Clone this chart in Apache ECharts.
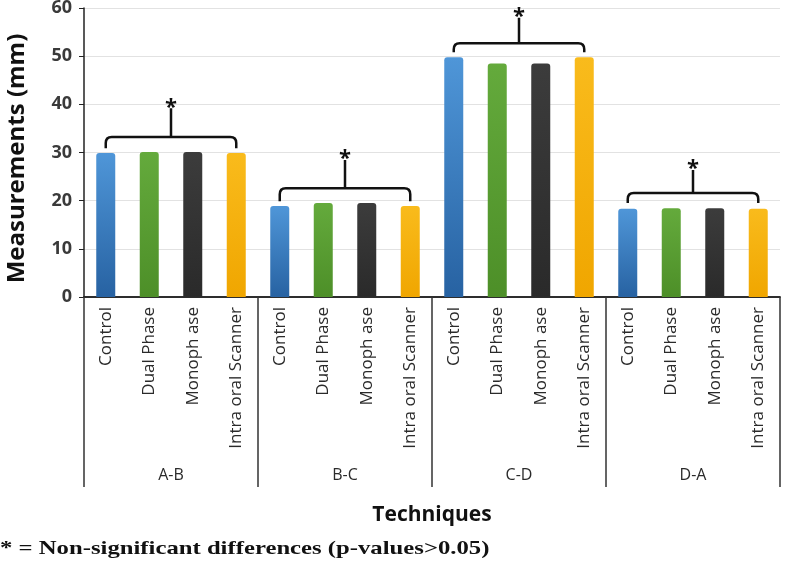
<!DOCTYPE html>
<html>
<head>
<meta charset="utf-8">
<script src="https://cdn.jsdelivr.net/npm/echarts@6/dist/echarts.min.js"></script>
<style>html,body{margin:0;padding:0;background:#fff}#c{width:786px;height:569px}</style>
</head>
<body>
<div id="c"></div>
<script>
// ---- data ----
var techniques = ['Control', 'Dual Phase', 'Monoph ase', 'Intra oral Scanner'];
var groups = ['A-B', 'B-C', 'C-D', 'D-A'];
var valuesAB = [29.9, 30.1, 30.1, 29.9];
var valuesBC = [18.9, 19.5, 19.5, 18.9];
var valuesCD = [49.8, 48.5, 48.5, 49.8];
var valuesDA = [18.3, 18.4, 18.4, 18.3];
var yTicks = [0, 10, 20, 30, 40, 50, 60];
// bracket annotation levels (in mm), one per group
var bracketTop = [33.2, 22.6, 52.7, 21.6];
var bracketLeg = [30.9, 19.9, 50.8, 19.5];
var starLevel = [40.2, 29.5, 59.0, 27.4];
var footnote = '* = Non-significant differences (p-values>0.05)';

// ---- styles ----
var techColors = [
  ['#4f96d8', '#2762a2'],
  ['#64aa3c', '#4d8f28'],
  ['#3c3c3c', '#2a2a2a'],
  ['#f9bb1c', '#f0a600']
];

var allValues = [valuesAB, valuesBC, valuesCD, valuesDA];
var categories = [];
var barData = [];
groups.forEach(function (g, gi) {
  techniques.forEach(function (t, ti) {
    categories.push(t);
    var c = techColors[ti];
    barData.push({
      value: allValues[gi][ti],
      itemStyle: {
        color: { type: 'linear', x: 0, y: 0, x2: 0, y2: 1,
          colorStops: [{ offset: 0, color: c[0] }, { offset: 1, color: c[1] }] },
        borderRadius: [3, 3, 0, 0]
      }
    });
  });
});
var bracketData = groups.map(function (g, gi) {
  var s = gi * techniques.length;
  return [s, s + techniques.length - 1, bracketTop[gi], bracketLeg[gi], starLevel[gi]];
});

var chart = echarts.init(document.getElementById('c'));
var fontSans = '"Open Sans", "Noto Sans", sans-serif';
chart.setOption({
  animation: false,
  grid: { left: 84, right: 6, top: 8, bottom: 272, containLabel: false, outerBoundsMode: 'none' },
  xAxis: [{
    type: 'category',
    data: categories,
    axisLine: { lineStyle: { color: '#222', width: 1.5 } },
    axisTick: { show: false },
    axisLabel: { interval: 0, rotate: 90, margin: 10, color: '#2a2a2a', fontSize: 17, fontFamily: fontSans }
  }, {
    type: 'category',
    data: groups,
    position: 'bottom',
    axisLine: { lineStyle: { color: '#222', width: 1.5 } },
    axisTick: { show: true, length: 190, interval: 0, lineStyle: { color: '#333', width: 1.5 } },
    axisLabel: { interval: 0, margin: 170, color: '#2a2a2a', fontSize: 16, fontFamily: fontSans },
    name: 'Techniques',
    nameLocation: 'middle',
    nameGap: 208,
    nameTextStyle: { color: '#111', fontSize: 21, fontWeight: 'bold', fontFamily: fontSans }
  }],
  yAxis: {
    type: 'value',
    min: yTicks[0],
    max: yTicks[yTicks.length - 1],
    interval: yTicks[1] - yTicks[0],
    axisLine: { show: true, lineStyle: { color: '#222', width: 1.5 } },
    axisTick: { show: true, length: 5, lineStyle: { color: '#222' } },
    axisLabel: { margin: 12, color: '#3a3a3a', fontSize: 18, fontWeight: 'bold', fontFamily: fontSans },
    splitLine: { lineStyle: { color: '#e2e2e2', width: 1 } },
    name: 'Measurements (mm)',
    nameLocation: 'middle',
    nameGap: 55,
    nameTextStyle: { color: '#111', fontSize: 24, fontWeight: 'bold', fontFamily: fontSans, padding: [0, 12, 0, 0] }
  },
  series: [{
    type: 'bar',
    xAxisIndex: 0,
    data: barData,
    barWidth: 19
  }, {
    type: 'custom',
    xAxisIndex: 0,
    clip: false,
    z: 5,
    data: bracketData,
    encode: { x: [0, 1], y: [2, 3, 4] },
    renderItem: function (params, api) {
      var p0 = api.coord([api.value(0), api.value(3)]);
      var p1 = api.coord([api.value(1), api.value(3)]);
      var yTop = api.coord([api.value(0), api.value(2)])[1];
      var yStar = api.coord([api.value(0), api.value(4)])[1];
      var x0 = p0[0], x1 = p1[0], yLeg = p0[1];
      var xm = (x0 + x1) / 2;
      var r = 6;
      var d = 'M' + x0 + ',' + yLeg + ' L' + x0 + ',' + (yTop + r) +
        ' Q' + x0 + ',' + yTop + ' ' + (x0 + r) + ',' + yTop +
        ' L' + (x1 - r) + ',' + yTop +
        ' Q' + x1 + ',' + yTop + ' ' + x1 + ',' + (yTop + r) +
        ' L' + x1 + ',' + yLeg +
        ' M' + xm + ',' + yTop + ' L' + xm + ',' + (yStar + 5);
      return {
        type: 'group',
        children: [{
          type: 'path',
          shape: { pathData: d },
          style: { fill: null, stroke: '#111', lineWidth: 2.5 }
        }, {
          type: 'text',
          x: xm, y: yStar + 4,
          style: { text: '*', fill: '#111', font: 'bold 22px ' + fontSans, align: 'center', verticalAlign: 'middle' }
        }]
      };
    }
  }],
  graphic: [{
    type: 'text',
    x: 0,
    y: 549,
    scaleX: 1.3,
    style: { text: footnote, fill: '#111', font: 'bold 19px "Liberation Serif", "DejaVu Serif", serif', verticalAlign: 'middle' }
  }]
});
</script>
</body>
</html>
